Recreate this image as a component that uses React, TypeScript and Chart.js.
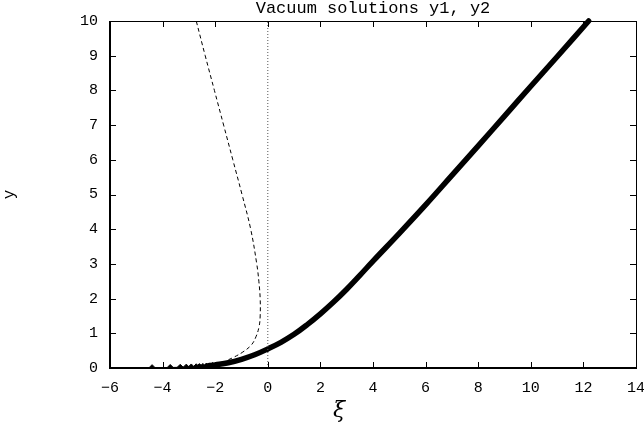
import React, { useEffect, useRef } from "react";
import { Chart, registerables } from "chart.js";

Chart.register(...registerables);

const titleText = "Vacuum solutions y1, y2";
const xLabel = "ξ";
const yLabel = "y";

const xTicks = [-6, -4, -2, 0, 2, 4, 6, 8, 10, 12, 14];
const yTicks = [0, 1, 2, 3, 4, 5, 6, 7, 8, 9, 10];

// y1: sparse markers at the left end
const y1MarkX = [-4.4, -3.71, -3.33, -3.1, -2.91, -2.72, -2.6, -2.47, -2.34, -2.22, -2.1];
const y1MarkY = [0.01, 0.015, 0.02, 0.025, 0.03, 0.035, 0.04, 0.045, 0.05, 0.06, 0.07];

// y1: dense part (drawn thick)
const y1X = [-2.3, -2.0, -1.5, -1.0, -0.5, 0, 0.5, 1, 1.5, 2, 2.5, 3, 3.5, 4, 5, 6, 7, 8, 9, 10, 11, 12.2];
const y1Y = [0.06, 0.09, 0.15, 0.25, 0.38, 0.55, 0.74, 0.97, 1.25, 1.56, 1.9, 2.27, 2.67, 3.08, 3.88, 4.7, 5.55, 6.4, 7.26, 8.12, 8.97, 10];

// y2: dashed
const y2X = [-2.72, -2.38, -2.03, -1.68, -1.33, -0.98, -0.65, -0.42, -0.34, -0.29, -0.29, -0.33, -0.45, -0.63, -0.95, -1.27, -1.55];
const y2Y = [10, 9, 8, 7, 6, 5, 4, 3, 2.5, 2, 1.5, 1.2, 0.9, 0.66, 0.46, 0.32, 0.22];

// vertical dotted line at xi = 0
const vX = [0, 0];
const vY = [0, 10];

const zip = (xs: number[], ys: number[]) => xs.map((x, i) => ({ x, y: ys[i] }));
const fmt = (v: number) => String(v).replace("-", "\u2212");

const framePlugin = {
  id: "frame",
  afterDatasetsDraw(chart: any) {
    const { ctx, chartArea } = chart;
    const { left, right, top, bottom } = chartArea;
    const xs = chart.scales.x;
    const ys = chart.scales.y;
    ctx.save();
    ctx.strokeStyle = "#000";
    ctx.lineWidth = 1;
    ctx.beginPath();
    ctx.moveTo(left, top + 0.5);
    ctx.lineTo(right + 0.5, top + 0.5);
    ctx.lineTo(right + 0.5, bottom);
    ctx.stroke();
    ctx.lineWidth = 2;
    ctx.beginPath();
    ctx.moveTo(left, top);
    ctx.lineTo(left, bottom);
    ctx.lineTo(right + 1, bottom);
    ctx.stroke();
    ctx.lineWidth = 1;
    const tl = 6;
    ctx.beginPath();
    xTicks.forEach((v) => {
      const p = Math.round(xs.getPixelForValue(v)) + 0.5;
      ctx.moveTo(p, bottom);
      ctx.lineTo(p, bottom - tl);
      ctx.moveTo(p, top);
      ctx.lineTo(p, top + tl);
    });
    yTicks.forEach((v) => {
      const p = Math.round(ys.getPixelForValue(v)) + 0.5;
      ctx.moveTo(left, p);
      ctx.lineTo(left + tl, p);
      ctx.moveTo(right, p);
      ctx.lineTo(right - tl, p);
    });
    ctx.stroke();
    ctx.fillStyle = "#000";
    ctx.font = '17px "Liberation Mono"';
    ctx.textAlign = "center";
    ctx.textBaseline = "alphabetic";
    ctx.fillText(titleText, (left + right) / 2, 12.5);
    ctx.font = 'italic 22px "DejaVu Serif"';
    ctx.textBaseline = "middle";
    ctx.fillText(xLabel, 339, 411);
    ctx.save();
    ctx.translate(10, (top + bottom) / 2);
    ctx.rotate(-Math.PI / 2);
    ctx.font = '16px "Liberation Mono"';
    ctx.fillText(yLabel, 0, 0);
    ctx.restore();
    ctx.restore();
  },
};

export default function App() {
  const ref = useRef<HTMLCanvasElement | null>(null);
  useEffect(() => {
    if (!ref.current) return;
    const chart = new Chart(ref.current, {
      type: "scatter",
      data: {
        datasets: [
          {
            data: zip(vX, vY),
            showLine: true,
            borderColor: "#555",
            borderWidth: 1,
            borderDash: [1, 2],
            pointRadius: 0,
          },
          {
            data: zip(y2X, y2Y),
            showLine: true,
            borderColor: "#000",
            borderWidth: 1,
            borderDash: [4, 3],
            pointRadius: 0,
            tension: 0.4,
          },
          {
            data: zip(y1MarkX, y1MarkY),
            showLine: true,
            borderColor: "#000",
            borderWidth: 1,
            pointStyle: "rectRot",
            pointRadius: 3,
            pointBackgroundColor: "#000",
            pointBorderColor: "#000",
            pointBorderWidth: 1,
          },
          {
            data: zip(y1X, y1Y),
            showLine: true,
            borderColor: "#000",
            borderWidth: 5.5,
            borderCapStyle: "round",
            borderJoinStyle: "round",
            pointRadius: 0,
            tension: 0.4,
            clip: false as any,
          },
        ],
      },
      options: {
        animation: false,
        responsive: false,
        events: [],
        layout: { padding: { top: 21, right: 8, left: 0, bottom: 0 } },
        plugins: {
          legend: { display: false },
          title: { display: false },
          tooltip: { enabled: false },
        },
        scales: {
          x: {
            type: "linear",
            min: -6,
            max: 14,
            afterBuildTicks: (s: any) => {
              s.ticks = xTicks.map((v) => ({ value: v }));
            },
            afterFit: (s: any) => {
              s.height = 61;
              s.paddingLeft = 0;
              s.paddingRight = 0;
            },
            grid: { display: false, drawTicks: false },
            border: { display: false },
            ticks: {
              color: "#000",
              padding: 11,
              autoSkip: false,
              maxRotation: 0,
              font: { family: '"Liberation Mono"', size: 15 },
              callback: (v: any) => fmt(Number(v)),
            },
          },
          y: {
            type: "linear",
            min: 0,
            max: 10,
            afterBuildTicks: (s: any) => {
              s.ticks = yTicks.map((v) => ({ value: v }));
            },
            afterFit: (s: any) => {
              s.width = 110;
              s.paddingTop = 0;
              s.paddingBottom = 0;
            },
            grid: { display: false, drawTicks: false },
            border: { display: false },
            ticks: {
              color: "#000",
              padding: 12,
              autoSkip: false,
              font: { family: '"Liberation Mono"', size: 15 },
              callback: (v: any) => fmt(Number(v)),
            },
          },
        },
      },
      plugins: [framePlugin],
    });
    return () => chart.destroy();
  }, []);
  return (
    <canvas
      ref={ref}
      width={644}
      height={429}
      style={{ position: "absolute", left: 0, top: 0, width: 644, height: 429, background: "#fff" }}
    />
  );
}
